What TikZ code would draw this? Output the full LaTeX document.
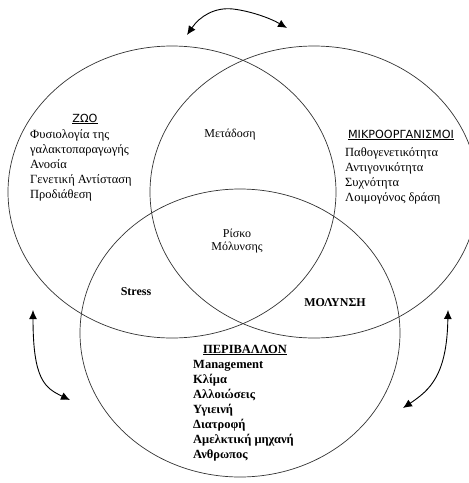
\documentclass[tikz,border=0pt]{standalone}
\usepackage{fontspec}
\setmainfont{Liberation Serif}
\newfontfamily\hdfont{DejaVu Sans}
\usetikzlibrary{arrows.meta}

\begin{document}
\begin{tikzpicture}[x=1pt,y=-1pt,
	venn/.style={draw=black!80,line width=0.7pt},
	lst/.style={align=left,inner sep=0pt,anchor=north west,
		font=\fontsize{12.5}{15}\selectfont},
	hdr/.style={inner sep=0pt,font=\hdfont\fontsize{11.2}{12}\selectfont},
	lbl/.style={inner sep=0pt,font=\fontsize{12}{13}\selectfont},
	dbl/.style={{Latex[length=9pt,width=8pt]}-{Latex[length=9pt,width=8pt]},
		line width=0.9pt}]
	\useasboundingbox (0,0) rectangle (469,483);
	\coordinate (zo) at (172,192);
	\coordinate (mi) at (314,192);
	\coordinate (pe) at (240,333);
	\draw[venn] (zo) ellipse [x radius=164,y radius=146];
	\draw[venn] (mi) ellipse [x radius=164,y radius=146];
	\draw[venn] (pe) ellipse [x radius=160,y radius=144];
	% ZWO
	\node[hdr] (zh) at (85,119) {\underline{ΖΩΟ}};
	\node[lst] (zl) at (30,129) {Φυσιολογία της\\γαλακτοπαραγωγής\\Ανοσία\\
		Γενετική Αντίσταση\\Προδιάθεση};
	% mikroorganismoi
	\node[hdr] (mh) at (401,135) {\underline{ΜΙΚΡΟΟΡΓΑΝΙΣΜΟΙ}};
	\node[lst] (ml) at (345,147) {Παθογενετικότητα\\Αντιγονικότητα\\Συχνότητα\\
		Λοιμογόνος δράση};
	% tomes
	\node[lbl] (md) at (230,135) {Μετάδοση};
	\node[lbl,align=center] (rm) at (237,241) {Ρίσκο\\Μόλυνσης};
	\node[lbl,font=\bfseries\fontsize{12}{13}\selectfont] (st) at (136,292) {Stress};
	\node[lbl,font=\bfseries\fontsize{12}{13}\selectfont] (mo) at (335,303) {ΜΟΛΥΝΣΗ};
	% perivallon
	\node[lbl,font=\bfseries\fontsize{12.5}{13}\selectfont] (ph) at (245,350)
		{\underline{ΠΕΡΙΒΑΛΛΟΝ}};
	\node[lst,font=\bfseries\fontsize{12.5}{15}\selectfont] (pl) at (193,360)
		{Management\\Κλίμα\\Αλλοιώσεις\\Υγιεινή\\Διατροφή\\Αμελκτική μηχανή\\Ανθρωπος};
	% arrows
	\coordinate (t1) at (187,35);
	\coordinate (t2) at (287,28);
	\coordinate (l1) at (33,310);
	\coordinate (l2) at (70,400);
	\coordinate (r1) at (448,310);
	\coordinate (r2) at (403,408);
	\draw[dbl] (t1) .. controls (200,16) and (215,7) .. (233,9)
		.. controls (250,11) and (270,18) .. (t2);
	\draw[dbl] (l1) .. controls (33,380) and (45,388) .. (l2);
	\draw[dbl] (r1) .. controls (447,375) and (430,390) .. (r2);
\end{tikzpicture}
\end{document}
